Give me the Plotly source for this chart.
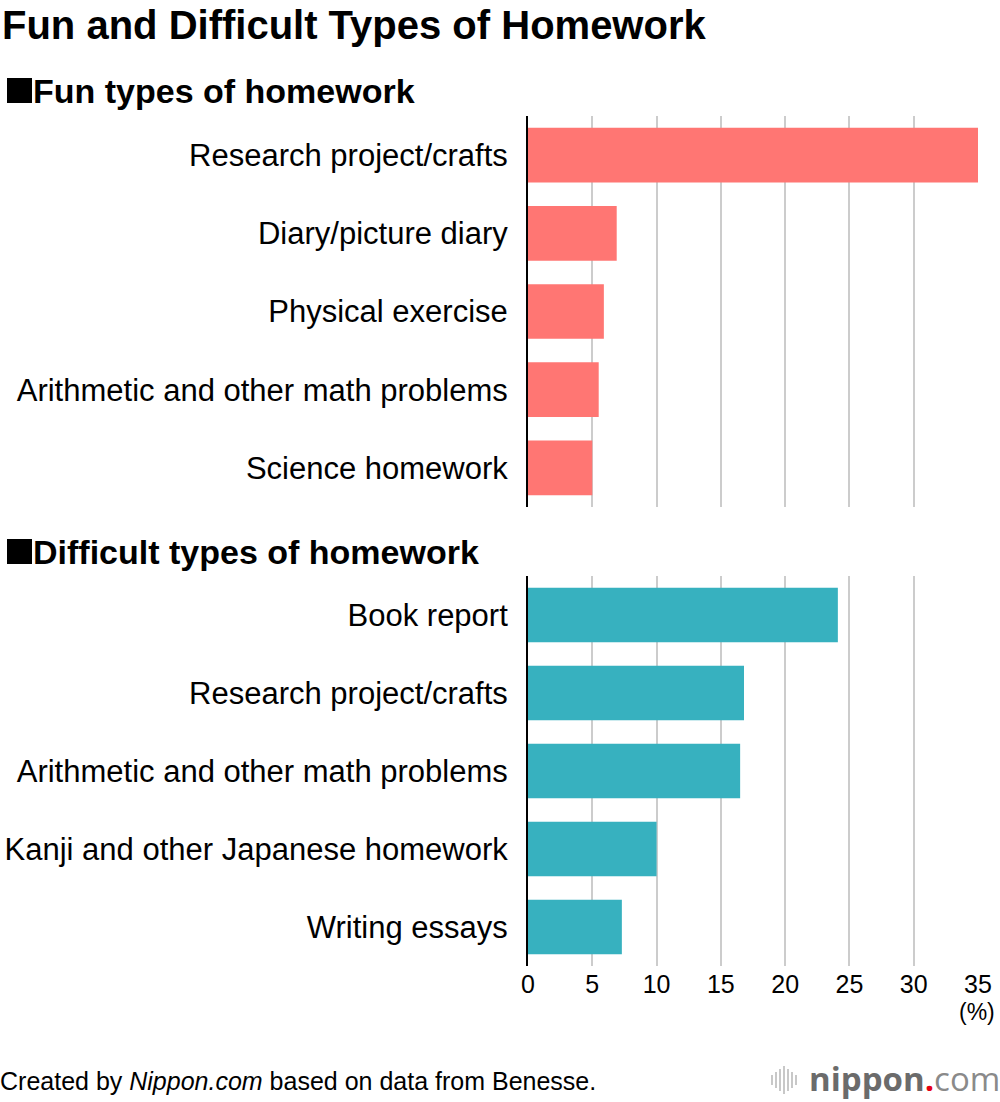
import plotly.graph_objects as go

fun_categories = ["Research project/crafts", "Diary/picture diary", "Physical exercise",
                  "Arithmetic and other math problems", "Science homework"]
fun_values = [35.0, 6.9, 5.9, 5.5, 5.0]

difficult_categories = ["Book report", "Research project/crafts", "Arithmetic and other math problems",
                        "Kanji and other Japanese homework", "Writing essays"]
difficult_values = [24.1, 16.8, 16.5, 10.0, 7.3]

x_ticks = [0, 5, 10, 15, 20, 25, 30, 35]

W, H = 1000, 1102
FONT = "Liberation Sans, Arial, Helvetica, sans-serif"

def py(px):
    return 1 - px / H

def pxx(px):
    return px / W

fig = go.Figure()
fig.add_trace(go.Bar(y=fun_categories, x=fun_values, orientation="h",
                     marker=dict(color="#FF7673", line=dict(width=0)), width=0.7,
                     xaxis="x", yaxis="y", hoverinfo="x+y"))
fig.add_trace(go.Bar(y=difficult_categories, x=difficult_values, orientation="h",
                     marker=dict(color="#37B1BF", line=dict(width=0)), width=0.7,
                     xaxis="x2", yaxis="y2", hoverinfo="x+y"))

xcommon = dict(range=[0, 35], tickvals=x_ticks, showgrid=True, gridcolor="#cccccc", gridwidth=2,
               zeroline=False, showline=False, fixedrange=True, automargin=False)
ycommon = dict(autorange="reversed", showgrid=False, zeroline=False, showline=True,
               linecolor="#000000", linewidth=2, ticks="", ticklabelstandoff=12,
               tickfont=dict(family=FONT, size=31, color="#000000"), fixedrange=True,
               automargin=False)

fig.update_layout(
    width=W, height=H, autosize=False,
    margin=dict(l=0, r=0, t=0, b=0, autoexpand=False),
    paper_bgcolor="white", plot_bgcolor="white",
    showlegend=False, bargap=0.3,
    font=dict(family=FONT, color="#000000"),
    xaxis=dict(domain=[pxx(528), pxx(978)], anchor="y", showticklabels=False, **xcommon),
    yaxis=dict(domain=[py(507), py(116)], anchor="x", categoryorder="array",
               categoryarray=fun_categories, **ycommon),
    xaxis2=dict(domain=[pxx(528), pxx(978)], anchor="y2", showticklabels=True,
                tickfont=dict(family=FONT, size=25, color="#000000"), ticks="", ticklabelstandoff=1,
                **xcommon),
    yaxis2=dict(domain=[py(966), py(576)], anchor="x2", categoryorder="array",
                categoryarray=difficult_categories, **ycommon),
)

ann = [
    dict(text="<b>Fun and Difficult Types of Homework</b>", x=pxx(0), y=py(25),
         font=dict(size=40, family=FONT, color="#000000"), xanchor="left"),
    dict(text="<b>Fun types of homework</b>", x=pxx(31), y=py(91),
         font=dict(size=34, family=FONT, color="#000000"), xanchor="left"),
    dict(text="<b>Difficult types of homework</b>", x=pxx(31), y=py(552),
         font=dict(size=34, family=FONT, color="#000000"), xanchor="left"),
    dict(text="(%)", x=pxx(977), y=py(1012),
         font=dict(size=23, family=FONT, color="#000000"), xanchor="center"),
    dict(text="Created by <i>Nippon.com</i> based on data from Benesse.", x=pxx(-2), y=py(1081),
         font=dict(size=25, family=FONT, color="#000000"), xanchor="left"),
    dict(text="<b>nippon</b><span style='color:#e60012'><b>.</b></span><span style='color:#8a8a8a'>com</span>",
         x=pxx(1002), y=py(1078),
         font=dict(size=33, family="Open Sans, Liberation Sans, sans-serif", color="#6b6b6b"),
         xanchor="right"),
]
for a in ann:
    a.update(xref="paper", yref="paper", yanchor="middle", showarrow=False)

shapes = [
    dict(type="rect", xref="paper", yref="paper", x0=pxx(7), x1=pxx(32), y0=py(103), y1=py(78),
         fillcolor="#000000", line=dict(width=0)),
    dict(type="rect", xref="paper", yref="paper", x0=pxx(7), x1=pxx(32), y0=py(564), y1=py(539),
         fillcolor="#000000", line=dict(width=0)),
]
# nippon.com logo sound-wave icon (decorative)
logo_bars = [(772, 10), (776, 16), (780, 22), (784, 28), (788, 22), (792, 16), (796, 10)]
for bx, bh in logo_bars:
    shapes.append(dict(type="line", xref="paper", yref="paper", x0=pxx(bx), x1=pxx(bx),
                       y0=py(1080 + bh / 2), y1=py(1080 - bh / 2),
                       line=dict(color="#c8c8c8", width=2)))

fig.update_layout(annotations=ann, shapes=shapes)

fig.write_html("out.html", include_plotlyjs=True,
               config={"displayModeBar": False, "responsive": False},
               post_script="document.body.style.margin='0';")
